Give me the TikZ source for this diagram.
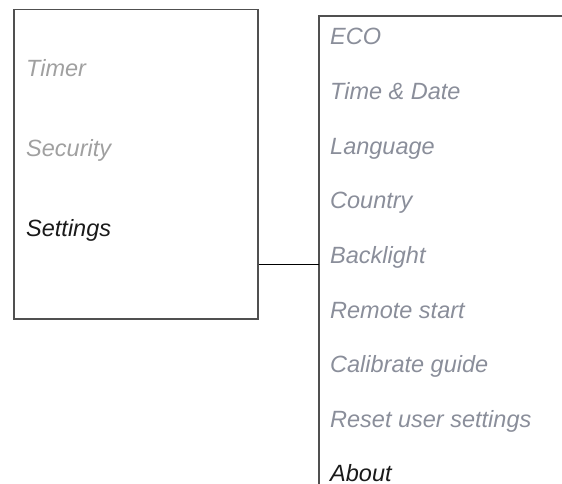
\documentclass[tikz,border=0pt]{standalone}
\usepackage{fontspec}
\setmainfont{Liberation Sans}
\definecolor{boxline}{HTML}{505050}
\definecolor{leftgrey}{HTML}{A0A0A0}
\definecolor{subgrey}{HTML}{8A8E9A}
\definecolor{activetext}{HTML}{1A1A1A}
\tikzset{
  menubox/.style={draw=boxline, line width=1.2pt, inner sep=0pt, minimum width=244pt, minimum height=309.5pt},
  subline/.style={draw=boxline, line width=1.2pt},
  linkline/.style={draw=black, line width=1pt},
  item/.style={anchor=base west, inner sep=0pt, font=\itshape\fontsize{23.5}{27}\selectfont},
  lefti/.style={item, text=leftgrey},
  subi/.style={item, text=subgrey},
  acti/.style={item, text=activetext}
}
\begin{document}
\begin{tikzpicture}[x=1pt,y=-1pt]
\useasboundingbox (0,0) rectangle (562,484);
\node[menubox] (menu) at (136,164.25) {};
\coordinate (subtop) at (319,16);
\coordinate (subright) at (562,16);
\coordinate (subbottom) at (319,484);
\coordinate (join) at (319,264);
\draw[subline] (subright) -- (subtop) -- (subbottom);
\draw[linkline] (menu.east |- join) -- (join);
\node[lefti] (timer) at (26,77) {Timer};
\node[lefti] (security) at (26,157) {Security};
\node[acti] (settings) at (26,236) {Settings};
\node[subi] (eco) at (330,45) {ECO};
\node[subi] (time) at (330,99.6) {Time \& Date};
\node[subi] (lang) at (330,154.2) {Language};
\node[subi] (country) at (330,208.8) {Country};
\node[subi] (back) at (330,263.4) {Backlight};
\node[subi] (remote) at (330,318) {Remote start};
\node[subi] (calib) at (330,372.6) {Calibrate guide};
\node[subi] (reset) at (330,427.2) {Reset user settings};
\node[acti] (about) at (330,481.8) {About};
\end{tikzpicture}
\end{document}
